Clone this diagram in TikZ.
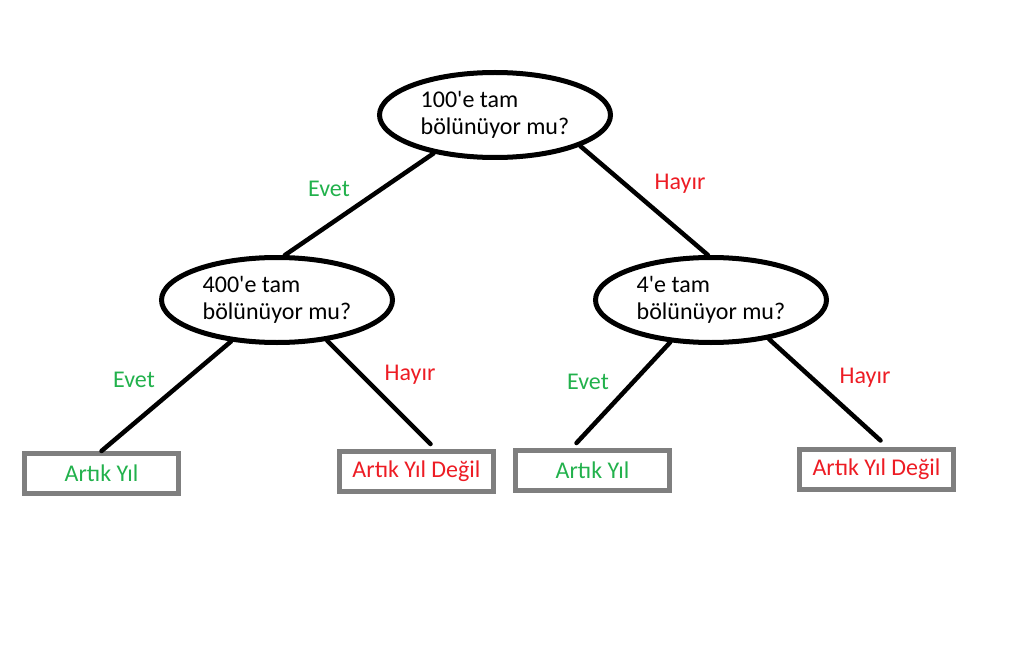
\documentclass[tikz,border=0pt]{standalone}
\usepackage{fontspec}
\setmainfont{Carlito}
\usetikzlibrary{shapes.geometric}
\definecolor{evetgreen}{RGB}{34,177,76}
\definecolor{hayirred}{RGB}{237,28,36}
\definecolor{boxgray}{RGB}{127,127,127}

\begin{document}
\begin{tikzpicture}[x=1pt, y=-1pt,
    soru/.style={ellipse, draw, line width=5pt, minimum width=231pt, minimum height=85pt, inner sep=0pt, align=left, font=\fontsize{24}{27}\selectfont},
    sonuc/.style={rectangle, draw=boxgray, line width=5pt, minimum width=154pt, minimum height=40pt, inner sep=0pt, font=\fontsize{24}{27}\selectfont},
    etiket/.style={inner sep=0pt, font=\fontsize{24}{27}\selectfont},
    kol/.style={line width=4.5pt, line cap=round}
]
\useasboundingbox (0,0) rectangle (1034,658);

% Sorular
\node[soru] (q100) at (495,115) {100\textquotesingle e tam\\bölünüyor mu?};
\node[soru] (q400) at (277,300) {400\textquotesingle e tam\\bölünüyor mu?};
\node[soru] (q4) at (711,300) {4\textquotesingle e tam\\bölünüyor mu?};

% Sonuclar
\node[sonuc, text=evetgreen] (y1) at (101.5,473.5) {Artık Yıl};
\node[sonuc, text=hayirred] (d1) at (416.5,471.5) {Artık Yıl Değil};
\node[sonuc, text=evetgreen] (y2) at (592.5,470.5) {Artık Yıl};
\node[sonuc, text=hayirred] (d2) at (876.5,469) {Artık Yıl Değil};

% Kollar
\draw[kol] (q100.212) -- (q400.80);
\draw[kol] (q100.340) -- (q4.94);
\draw[kol] (q400.222) -- (y1.north);
\draw[kol] (q400.321) -- ([shift={(14,-5)}]d1.north);
\draw[kol] (q4.226) -- ([shift={(-16,-5)}]y2.north);
\draw[kol] (q4.326) -- ([shift={(4,-6)}]d2.north);

% Etiketler
\node[etiket, text=evetgreen] (e1) at (329,189) {Evet};
\node[etiket, text=hayirred] (h1) at (680,184) {Hayır};
\node[etiket, text=evetgreen] (e2) at (134,380) {Evet};
\node[etiket, text=hayirred] (h2) at (410,375) {Hayır};
\node[etiket, text=evetgreen] (e3) at (588,382) {Evet};
\node[etiket, text=hayirred] (h3) at (865,378) {Hayır};

\end{tikzpicture}
\end{document}
